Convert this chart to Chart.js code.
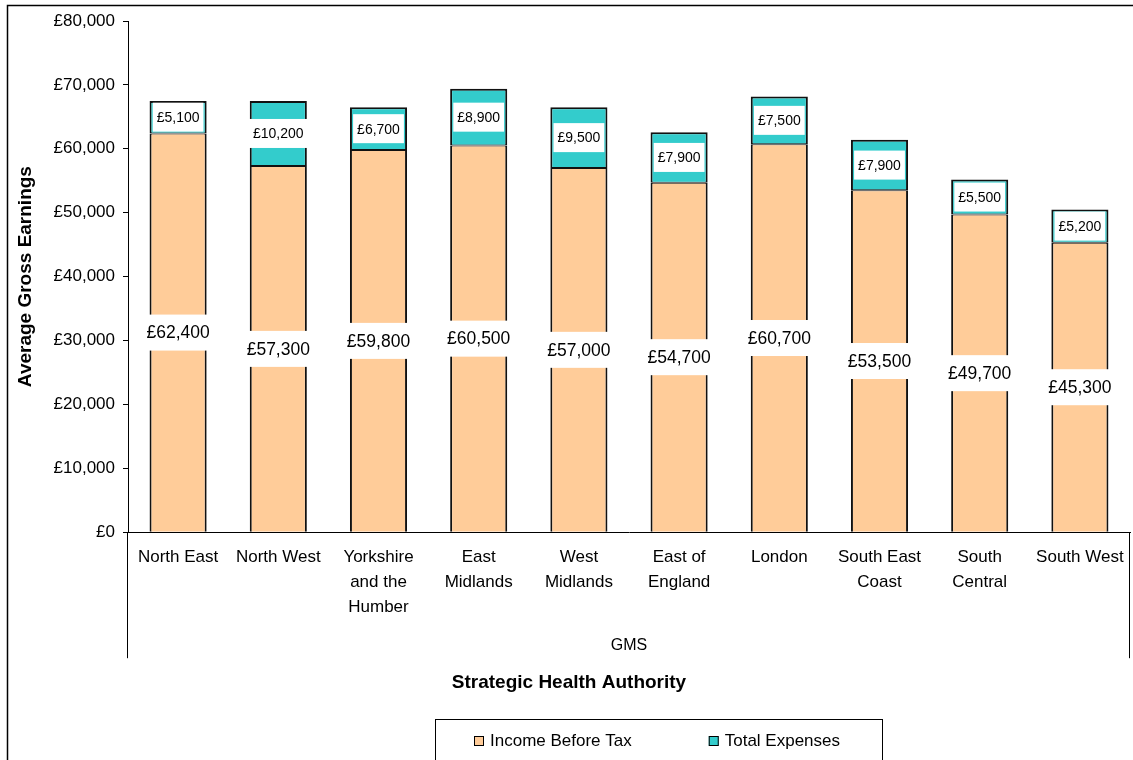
<!DOCTYPE html>
<html>
<head>
<meta charset="utf-8">
<title>Average Gross Earnings by Strategic Health Authority</title>
<script src="https://cdn.jsdelivr.net/npm/chart.js@4.4.1/dist/chart.umd.min.js"></script>
<style>
  html, body { margin: 0; padding: 0; background: #fff; overflow: hidden; }
  #wrap { width: 1133px; height: 760px; position: relative; }
</style>
</head>
<body>
<div id="wrap"><canvas id="chart"></canvas></div>
<script>
var regions = [
    ["North East"], ["North West"], ["Yorkshire", "and the", "Humber"], ["East", "Midlands"],
    ["West", "Midlands"], ["East of", "England"], ["London"], ["South East", "Coast"],
    ["South", "Central"], ["South West"]
];
var incomeBeforeTax = [62400, 57300, 59800, 60500, 57000, 54700, 60700, 53500, 49700, 45300];
var totalExpenses = [5100, 10200, 6700, 8900, 9500, 7900, 7500, 7900, 5500, 5200];
var seriesNames = ["Income Before Tax", "Total Expenses"];
var groupName = "GMS";
var yTicks = [0, 80000, 10000]; // min, max, step

var FONT = '"Liberation Sans", Arial, sans-serif';
var PEACH = "#FFCC99";
var TEAL = "#33CCCC";

function money(v) {
    return "£" + v.toLocaleString("en-GB");
}

// white boxed value labels in the middle of each segment
var barLabels = {
    id: "barLabels",
    afterDatasetsDraw: function(chart) {
        var ctx = chart.ctx;
        ctx.save();
        ctx.textAlign = "center";
        ctx.textBaseline = "middle";
        chart.data.datasets.forEach(function(ds, i) {
            var meta = chart.getDatasetMeta(i);
            var small = i == 1;
            ctx.font = (small ? "14px " : "17.5px ") + FONT;
            meta.data.forEach(function(bar, j) {
                var text = money(ds.data[j]);
                var w = ctx.measureText(text).width + (small ? 8 : 10);
                var h = small ? 29 : 36;
                var y = (bar.y + bar.base) / 2;
                ctx.fillStyle = "#fff";
                ctx.fillRect(bar.x - w / 2, y - h / 2, w, h);
                ctx.fillStyle = "#000";
                ctx.fillText(text, bar.x, y + 1);
            });
        });
        ctx.restore();
    }
};

// outer frame, the group bracket below the axis and the boxed legend
var decorations = {
    id: "decorations",
    beforeDraw: function(chart) {
        var ctx = chart.ctx;
        ctx.save();
        ctx.fillStyle = "#fff";
        ctx.fillRect(0, 0, chart.width, chart.height);
        ctx.strokeStyle = "#000";
        ctx.lineWidth = 1.5;
        ctx.beginPath();
        ctx.moveTo(7.5, chart.height);
        ctx.lineTo(7.5, 5.5);
        ctx.lineTo(chart.width, 5.5);
        ctx.stroke();
        ctx.restore();
    },
    afterDraw: function(chart) {
        var ctx = chart.ctx;
        var area = chart.chartArea;
        var xs = chart.scales.x;
        ctx.save();
        ctx.strokeStyle = "#000";
        ctx.lineWidth = 1;
        ctx.beginPath();
        ctx.moveTo(Math.round(area.left) - 0.5, area.bottom);
        ctx.lineTo(Math.round(area.left) - 0.5, xs.bottom);
        ctx.moveTo(Math.round(area.right) - 0.5, area.bottom);
        ctx.lineTo(Math.round(area.right) - 0.5, xs.bottom);
        ctx.stroke();

        // legend
        ctx.strokeRect(435.5, 719.5, 447, 60);
        ctx.font = "17px " + FONT;
        ctx.textBaseline = "middle";
        ctx.textAlign = "left";
        var x = 474;
        chart.data.datasets.forEach(function(ds) {
            ctx.fillStyle = ds.backgroundColor;
            ctx.fillRect(x, 736, 10, 10);
            ctx.strokeRect(x + 0.5, 736.5, 9, 9);
            ctx.fillStyle = "#000";
            ctx.fillText(ds.label, x + 16, 741);
            x += 16 + ctx.measureText(ds.label).width + 77;
        });
        ctx.restore();
    }
};

var ctx = document.getElementById("chart").getContext("2d");
var chart = new Chart(ctx, {
    type: "bar",
    data: {
        labels: regions,
        datasets: [{
            label: seriesNames[0],
            data: incomeBeforeTax,
            backgroundColor: PEACH,
            borderColor: "#111",
            borderWidth: { left: 2, right: 2, top: 1, bottom: 0 },
            borderSkipped: "start"
        }, {
            label: seriesNames[1],
            data: totalExpenses,
            backgroundColor: TEAL,
            borderColor: "#111",
            borderWidth: { left: 2, right: 2, top: 2, bottom: 1 },
            borderSkipped: false
        }]
    },
    options: {
        responsive: true,
        maintainAspectRatio: false,
        animation: false,
        categoryPercentage: 1,
        barPercentage: 0.57,
        layout: {
            padding: { top: 21, right: 3, bottom: 56, left: 8 }
        },
        plugins: {
            legend: { display: false },
            tooltip: { enabled: false },
            title: {
                display: true,
                text: "Strategic Health Authority",
                position: "bottom",
                color: "#000",
                font: { family: FONT, size: 19, weight: "bold" },
                padding: { top: 13, bottom: 10 }
            }
        },
        scales: {
            x: {
                stacked: true,
                // invisible tick marks keep the labels clear of the axis
                grid: { display: true, drawOnChartArea: false, drawTicks: true, tickLength: 8, color: "rgba(0,0,0,0)" },
                border: { display: true, color: "#000", width: 1 },
                ticks: {
                    color: "#000",
                    font: { family: FONT, size: 17, lineHeight: 1.45 },
                    padding: 5,
                    autoSkip: false,
                    maxRotation: 0
                },
                title: {
                    display: true,
                    text: groupName,
                    color: "#000",
                    font: { family: FONT, size: 16 },
                    padding: { top: 0, bottom: 3 }
                },
                afterFit: function(scale) {
                    scale.height = 126;
                }
            },
            y: {
                stacked: true,
                min: yTicks[0],
                max: yTicks[1],
                grid: { display: true, drawOnChartArea: false, drawTicks: true, tickLength: 5, color: "#000" },
                border: { display: true, color: "#000", width: 1 },
                ticks: {
                    stepSize: yTicks[2],
                    color: "#000",
                    padding: 8,
                    font: { family: FONT, size: 17 },
                    callback: function(v) { return money(v); }
                },
                title: {
                    display: true,
                    text: "Average Gross Earnings",
                    color: "#000",
                    font: { family: FONT, size: 19, weight: "bold" },
                    padding: { top: 6, bottom: 0 }
                },
                afterFit: function(scale) {
                    scale.width = 120;
                }
            }
        }
    },
    plugins: [decorations, barLabels]
});
</script>
</body>
</html>
